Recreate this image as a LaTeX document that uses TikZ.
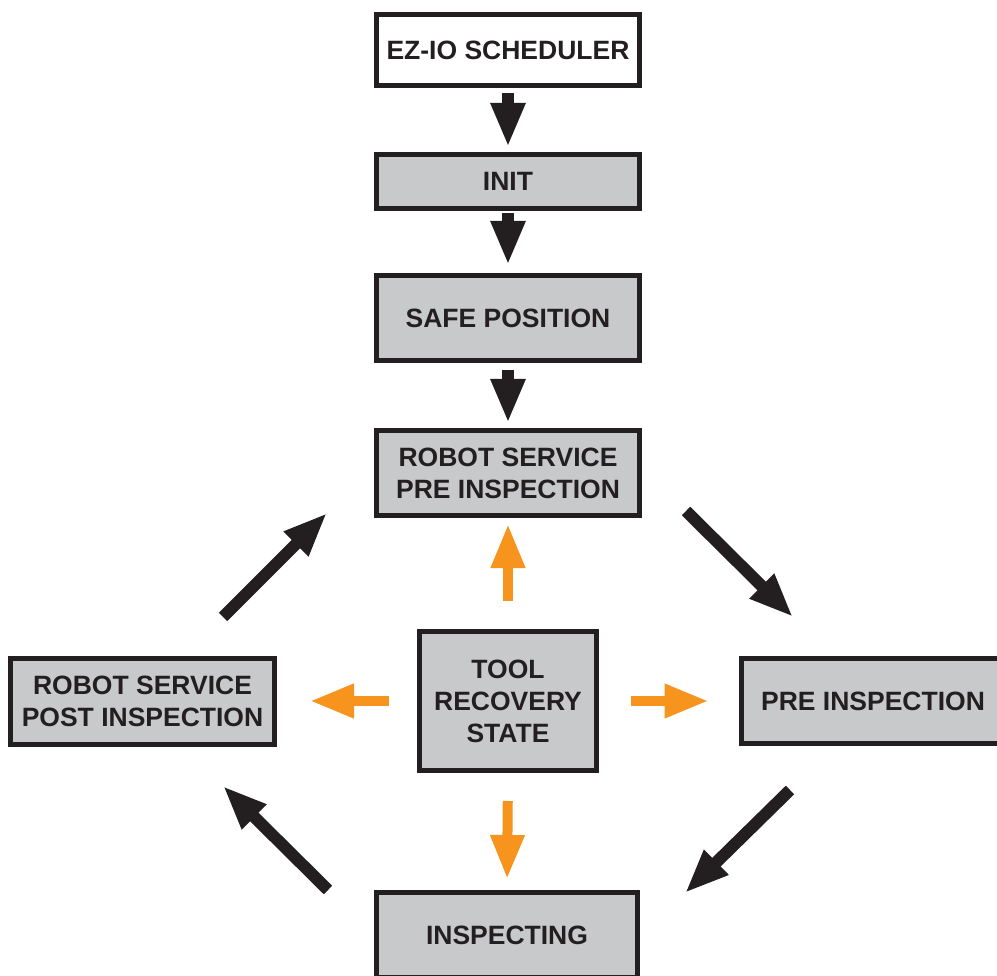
\documentclass[tikz,border=0pt]{standalone}
\usepackage{fontspec}
\setmainfont{Liberation Sans}
\usetikzlibrary{arrows.meta,calc}
\definecolor{boxgray}{HTML}{C8C9CB}
\definecolor{ink}{HTML}{231F20}
\definecolor{orng}{HTML}{F7941D}
\begin{document}
\begin{tikzpicture}[x=1pt,y=-1pt,
  box/.style={draw=ink,line width=5pt,fill=boxgray,align=center,inner sep=0pt,
    font=\fontsize{26.5}{32}\selectfont\bfseries,text=ink},
  blk/.style={draw=ink,line width=12pt,-{Triangle[length=44pt,width=32pt]}},
  org/.style={draw=orng,line width=10pt,-{Triangle[length=44pt,width=32pt]}}]
\clip (0,0) rectangle (997,976);
\fill[white] (0,0) rectangle (997,976);
\node[box,fill=white,minimum width=263pt,minimum height=71pt] (ez) at (508,50) {EZ-IO SCHEDULER};
\node[box,minimum width=263pt,minimum height=54pt] (init) at (508,181.5) {INIT};
\node[box,minimum width=263pt,minimum height=85pt] (safe) at (508,318) {SAFE POSITION};
\node[box,minimum width=263pt,minimum height=85pt] (rpre) at (508,473) {ROBOT SERVICE\\PRE INSPECTION};
\node[box,minimum width=177pt,minimum height=139pt] (tool) at (508,701) {TOOL\\RECOVERY\\STATE};
\node[box,minimum width=264pt,minimum height=86pt] (post) at (142.5,701) {ROBOT SERVICE\\POST INSPECTION};
\node[box,minimum width=264pt,minimum height=85pt] (pre) at (873,701) {PRE INSPECTION};
\node[box,minimum width=261pt,minimum height=85pt] (insp) at (507,935) {INSPECTING};
% vertical black arrows
\draw[blk,shorten <=5pt,shorten >=5pt] (ez.south) -- (init.north);
\draw[blk,shorten <=2pt,shorten >=8pt] (init.south) -- (safe.north);
\draw[blk,shorten <=7pt,shorten >=5pt] (safe.south) -- (rpre.north);
% orange arrows from tool
\draw[org,shorten <=28pt,shorten >=6pt] (tool.north) -- (rpre.south);
\draw[org,shorten <=28pt,shorten >=11pt] (tool.south) -- (insp.north);
\draw[org,shorten <=28pt,shorten >=33pt] (tool.west) -- (post.east);
\draw[org,shorten <=32pt,shorten >=30pt] (tool.east) -- (pre.west);
% diagonal black arrows
\coordinate (a1) at (223,617); \coordinate (b1) at (327,513);
\coordinate (a2) at (686,511); \coordinate (b2) at (793,617);
\coordinate (a3) at (790,790); \coordinate (b3) at (685,893);
\coordinate (a4) at (328,890); \coordinate (b4) at (223,786);
\draw[blk] (a1) -- (b1);
\draw[blk] (a2) -- (b2);
\draw[blk] (a3) -- (b3);
\draw[blk] (a4) -- (b4);
\end{tikzpicture}
\end{document}
